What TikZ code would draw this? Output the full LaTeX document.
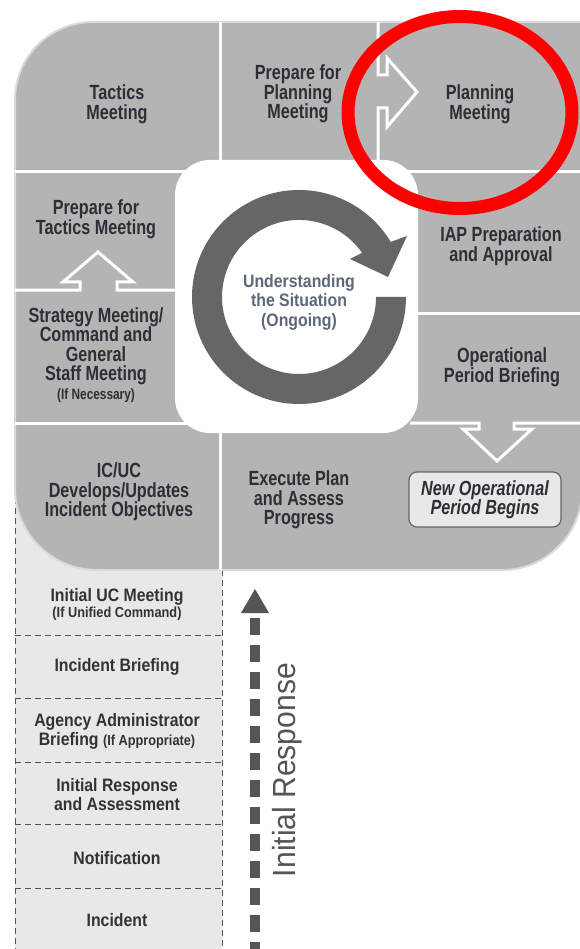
\documentclass[tikz,border=0pt]{standalone}
\usepackage{fontspec}
\setmainfont{Liberation Sans}
\newfontfamily\cellf{Liberation Sans}[FakeStretch=0.79]
\newfontfamily\lowf{Liberation Sans}[FakeStretch=0.88]
\newfontfamily\irf{Liberation Sans}[FakeStretch=0.94]
\definecolor{cellgray}{HTML}{B4B4B4}
\definecolor{lightcol}{HTML}{E8E8E8}
\definecolor{ringgray}{HTML}{666666}
\definecolor{celltext}{HTML}{2E2F36}
\definecolor{lowtext}{HTML}{333333}
\definecolor{ringtext}{HTML}{5E6878}
\definecolor{dashgray}{HTML}{555555}
\definecolor{outline}{HTML}{DADADA}
\definecolor{redc}{HTML}{FF0000}
\begin{document}
\begin{tikzpicture}[x=1pt,y=-1pt,
  cell/.style={font=\cellf\bfseries\fontsize{20.5}{19.5}\selectfont, text=celltext, align=center, inner sep=0pt},
  low/.style={font=\lowf\bfseries\fontsize{18}{19}\selectfont, text=lowtext, align=center, inner sep=0pt},
  divider/.style={draw=white, line width=3pt},
  lowdash/.style={draw=dashgray, line width=0.9pt, dash pattern=on 6pt off 4pt},
  newbox/.style={draw=ringgray, line width=1.2pt, fill=lightcol, rounded corners=8pt,
    minimum width=152pt, minimum height=55pt, align=center, text=celltext,
    font=\cellf\bfseries\itshape\fontsize{20.5}{19.5}\selectfont}]
\useasboundingbox (0,0) rectangle (579,949);
\fill[white] (0,0) rectangle (579,949);
% lower column
\fill[lightcol] (15,470) rectangle (222,949);
\draw[lowdash] (15,488) -- (15,949);
\draw[lowdash] (222,570) -- (222,949);
\foreach \yy in {635,698,762,824,888}
  \draw[lowdash] (15,\yy) -- (222,\yy);
% main shape
\path[fill=cellgray, draw=outline, line width=2pt]
  (15,100) arc[start angle=180,end angle=270,radius=78]
  -- (582,22) -- (582,490) arc[start angle=0,end angle=90,radius=80]
  -- (97,570) arc[start angle=90,end angle=180,radius=82] -- cycle;
% dividers
\draw[divider] (220,22) -- (220,570);
\draw[divider] (378,22) -- (378,75) -- (387,75) -- (387,58) -- (417,92)
  -- (387,127) -- (387,108) -- (378,108) -- (378,172);
\draw[divider] (15,172) -- (220,172);
\draw[divider] (378,172) -- (582,172);
\draw[divider] (15,290) -- (80,290) -- (80,282) -- (63,282) -- (98,252)
  -- (133,282) -- (117,282) -- (117,290) -- (180,290);
\draw[divider] (410,313) -- (582,313);
\draw[divider] (15,423) -- (220,423);
\draw[divider] (410,423) -- (479,423) -- (479,429) -- (463,429) -- (497,461)
  -- (532,429) -- (514,429) -- (514,423) -- (582,423);
% centre box
\fill[white, rounded corners=35pt] (175,160) rectangle (418,433);
% ring arrow
\fill[ringgray] (406,297) arc[start angle=0,end angle=329,radius=107]
  -- (407,236) -- (388,277) -- (350,259) -- (362.1,252.8)
  arc[start angle=325,end angle=0,radius=77] -- cycle;
\node[font=\lowf\bfseries\fontsize{18}{19.5}\selectfont, text=ringtext, align=center, inner sep=0pt]
  (situation) at (299,302) {Understanding\\the Situation\\(Ongoing)};
% cell texts
\node[cell] (tactics) at (117,104) {Tactics\\Meeting};
\node[cell] (prepplan) at (298,94) {Prepare for\\Planning\\Meeting};
\node[cell] (planning) at (480,104) {Planning\\Meeting};
\node[cell] (preptac) at (96,219) {Prepare for\\Tactics Meeting};
\node[cell] (strategy) at (96,355) {Strategy Meeting/\\Command and\\General\\Staff Meeting\\[-1pt]{\fontsize{15}{19.5}\selectfont(If Necessary)}};
\node[cell] (iap) at (501,246) {IAP Preparation\\and Approval};
\node[cell] (opbrief) at (502,367) {Operational\\Period Briefing};
\node[cell] (icuc) at (119,492) {IC/UC\\Develops/Updates\\Incident Objectives};
\node[cell] (execute) at (299,500) {Execute Plan\\and Assess\\Progress};
\node[newbox] (newop) at (485,499.5) {New Operational\\Period Begins};
% lower column texts
\node[low] (ucmeet) at (117,604) {Initial UC Meeting\\[-3pt]{\fontsize{14.5}{17}\selectfont(If Unified Command)}};
\node[low] (incbrief) at (117,667) {Incident Briefing};
\node[low] (agency) at (117,731) {Agency Administrator\\Briefing {\fontsize{14.5}{19}\selectfont(If Appropriate)}};
\node[low] (initresp) at (117,795) {Initial Response\\and Assessment};
\node[low] (notif) at (117,858) {Notification};
\node[low] (incident) at (117,920) {Incident};
% initial response arrow
\coordinate (irbot) at (255,949);
\coordinate (irstart) at (255,618);
\coordinate (irtip) at (255,589);
\draw[dashgray, line width=10pt, dash pattern=on 17pt off 10pt] (irstart) -- (irbot);
\fill[dashgray] (241,613) -- (irtip) -- (269,613) -- cycle;
\node[font=\irf\fontsize{32}{34}\selectfont, text=dashgray, rotate=90, inner sep=0pt]
  (irlabel) at (287,770) {Initial Response};
% red highlight
\draw[redc, line width=13pt] (460,112.5) ellipse[x radius=112, y radius=96];
\end{tikzpicture}
\end{document}
